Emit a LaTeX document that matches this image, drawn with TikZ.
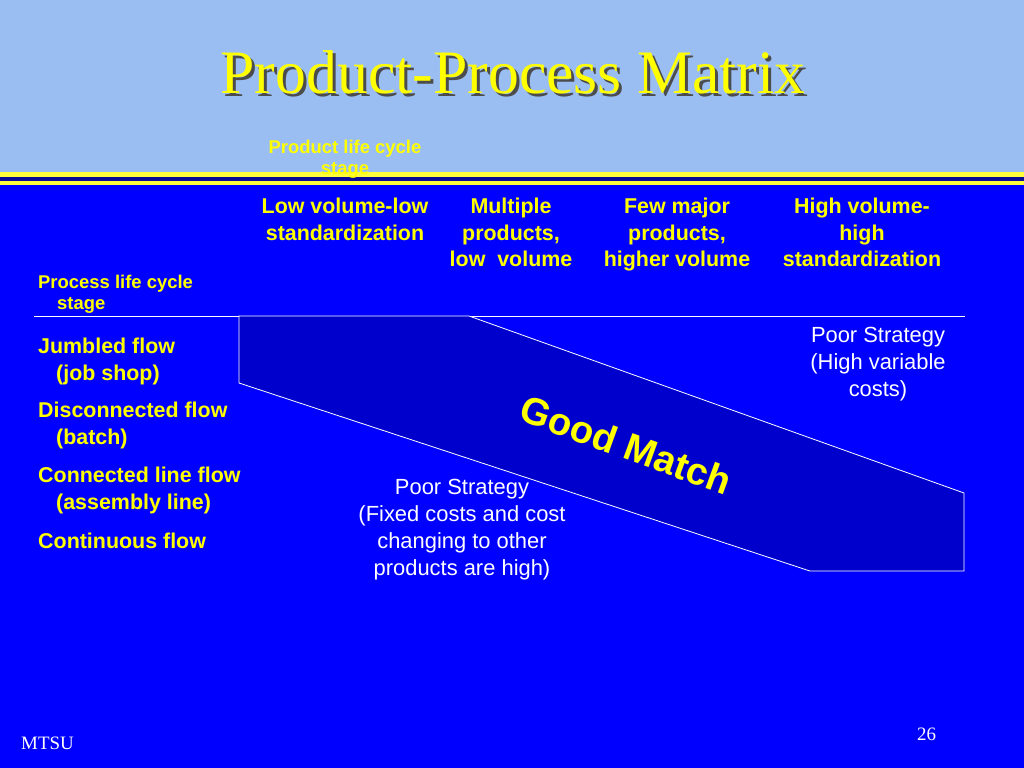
\documentclass[tikz,border=0pt]{standalone}
\usepackage{fontspec}
\setmainfont{Liberation Serif}
\setsansfont{Liberation Sans}
\usepackage{tikz}

\definecolor{slideblue}{RGB}{0,0,255}
\definecolor{bandblue}{RGB}{155,190,242}
\definecolor{matchblue}{RGB}{0,0,205}
\definecolor{stripeyellow}{RGB}{255,255,60}
\definecolor{stripenavy}{RGB}{10,10,150}
\definecolor{txtyellow}{RGB}{255,255,0}

\tikzset{
  head/.style={inner sep=0pt, text=txtyellow, font=\sffamily\bfseries\fontsize{21.5}{26.5}\selectfont, align=center, anchor=north},
  stage/.style={inner sep=0pt, text=txtyellow, font=\sffamily\bfseries\fontsize{21.5}{26.5}\selectfont, align=left, anchor=north west},
  small/.style={inner sep=0pt, text=txtyellow, font=\sffamily\bfseries\fontsize{18.5}{21.5}\selectfont},
  poor/.style={inner sep=0pt, text=white, font=\sffamily\fontsize{22}{27}\selectfont, align=center, anchor=north},
  foot/.style={inner sep=0pt, text=white, font=\fontsize{19}{22}\selectfont, anchor=base west}
}

\begin{document}
\begin{tikzpicture}[x=1bp,y=-1bp]
\useasboundingbox (0,0) rectangle (1024,768);
\fill[slideblue] (0,0) rectangle (1024,768);
\fill[bandblue] (0,0) rectangle (1024,172);
\fill[stripeyellow] (0,172) rectangle (1024,177);
\fill[stripenavy] (0,177) rectangle (1024,181);
\fill[stripeyellow] (0,181) rectangle (1024,185);

\node[inner sep=0pt, text=black!70, anchor=base, font=\fontsize{62}{68}\selectfont] at (516,97) {Product-Process Matrix};
\node[inner sep=0pt, text=txtyellow, anchor=base, font=\fontsize{62}{68}\selectfont] (title) at (513,94) {Product-Process Matrix};

\node[small, align=center, anchor=north] (prodstage) at (345,140) {Product life cycle\\stage};
\node[small, align=left, anchor=north west] (procstage) at (38,275) {Process life cycle\\\hspace*{19bp}stage};

\node[head] (col1) at (345,198) {Low volume-low\\standardization};
\node[head] (col2) at (511,198) {Multiple\\products,\\low\ \ volume};
\node[head] (col3) at (677,198) {Few major\\products,\\higher volume};
\node[head] (col4) at (862,198) {High volume-\\high\\standardization};

\draw[white, line width=0.8bp] (34,316) -- (965,316);
\draw[white, line width=0.8bp, fill=matchblue] (239,316) -- (469,316) -- (964,493) -- (964,571) -- (810,571) -- (239,383) -- cycle;

\node[stage] (jumbled) at (38,338) {Jumbled flow\\\hspace*{18bp}(job shop)};
\node[stage] (disconn) at (38,402) {Disconnected flow\\\hspace*{18bp}(batch)};
\node[stage] (connect) at (38,467) {Connected line flow\\\hspace*{18bp}(assembly line)};
\node[stage] (contin) at (38,533) {Continuous flow};

\node[poor] (poorhigh) at (878,327) {Poor Strategy\\(High variable\\costs)};
\node[poor] (poorfixed) at (462,479) {Poor Strategy\\(Fixed costs and cost\\changing to other\\products are high)};

\node[inner sep=0pt, text=txtyellow, rotate=-20, font=\sffamily\bfseries\fontsize{38.5}{42}\selectfont] (match) at (626,445) {Good Match};

\node[foot] (mtsu) at (21,749) {MTSU};
\node[foot] (page) at (917,740) {26};
\end{tikzpicture}
\end{document}
